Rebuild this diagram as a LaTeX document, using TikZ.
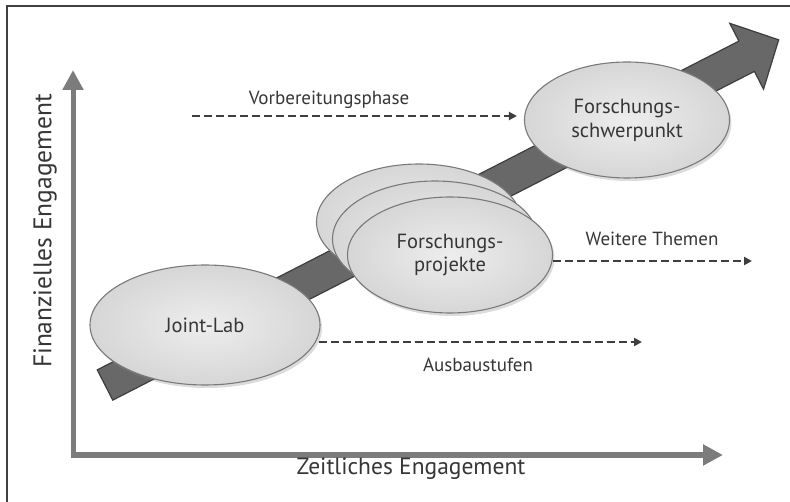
\documentclass[tikz,border=0pt]{standalone}
\usepackage{fontspec}
\setmainfont{PT Sans}
\usetikzlibrary{shapes.geometric,arrows.meta,shadows}
\definecolor{txt}{HTML}{363636}
\definecolor{bord}{HTML}{7A7A7A}
\definecolor{axisgray}{HTML}{7C7C7C}
\definecolor{bigarrow}{HTML}{686868}
\definecolor{bigarrowline}{HTML}{3E3E3E}
\definecolor{dashc}{HTML}{3E3E3E}
\begin{document}
\begin{tikzpicture}[x=1pt,y=-1pt,
  bubble/.style={ellipse, draw=bord, line width=1.1pt,
    inner color=gray!14, outer color=gray!32,
    minimum width=205pt, minimum height=116pt, inner sep=0pt,
    align=center, text=txt, font=\fontsize{20.5}{24}\selectfont,
    drop shadow={shadow xshift=2pt, shadow yshift=-3pt, opacity=0.28}},
  axisline/.style={draw=axisgray, line width=5pt, line join=miter,
    {Triangle[length=20pt,width=20pt]}-{Triangle[length=20pt,width=20pt]}},
  darr/.style={draw=dashc, line width=2.2pt, dash pattern=on 8pt off 4pt,
    -{Triangle[length=8pt,width=8pt]}},
  lab/.style={text=txt, font=\fontsize{19}{22}\selectfont, inner sep=0pt},
  axlab/.style={text=txt, font=\fontsize{23.5}{26}\selectfont, inner sep=0pt}]
\useasboundingbox (0,0) rectangle (790,502);
% frame
\draw[draw=black!75, line width=1.5pt] (7,502) -- (7,6) -- (790,6);
% axes
\coordinate (O) at (73,455);
\coordinate (ytop) at (73,70);
\coordinate (xend) at (723,455);
\draw[axisline] (ytop) -- (O) -- (xend);
\node[axlab, rotate=90, font=\fontsize{25.5}{28}\selectfont] (ylab) at (45,231) {Finanzielles Engagement};
\node[axlab] (xlab) at (411,469) {Zeitliches Engagement};
% big arrow
\begin{scope}[shift={(105,385)}, rotate=27.13]
\filldraw[fill=bigarrow, draw=bigarrowline, line width=1.2pt, line join=miter]
  (0,-17) -- (721,-17) -- (721,-37) -- (757,0) -- (721,37) -- (721,17) -- (0,17) -- cycle;
\end{scope}
% ellipses
\node[bubble, minimum width=230pt, minimum height=120pt] (jl) at (205,325) {Joint-Lab};
\node[bubble] (fp3) at (419,222) {};
\node[bubble] (fp2) at (435,239) {};
\node[bubble] (fp) at (450,255) {Forschungs-\\projekte};
\node[bubble] (fs) at (627,120) {Forschungs-\\schwerpunkt};
% dashed arrows
\coordinate (v0) at (192,116);
\coordinate (w1) at (752,261);
\coordinate (a1) at (642,342);
\draw[darr] (v0) -- ([xshift=-7pt]fs.west |- v0);
\node[lab] (vlab) at (329,100) {Vorbereitungsphase};
\draw[darr] (fp.east |- w1) -- (w1);
\node[lab] (wlab) at (652,239) {Weitere Themen};
\draw[darr] (jl.east |- a1) ++(-2,0) -- (a1);
\node[lab] (alab) at (478,365) {Ausbaustufen};
\end{tikzpicture}
\end{document}
